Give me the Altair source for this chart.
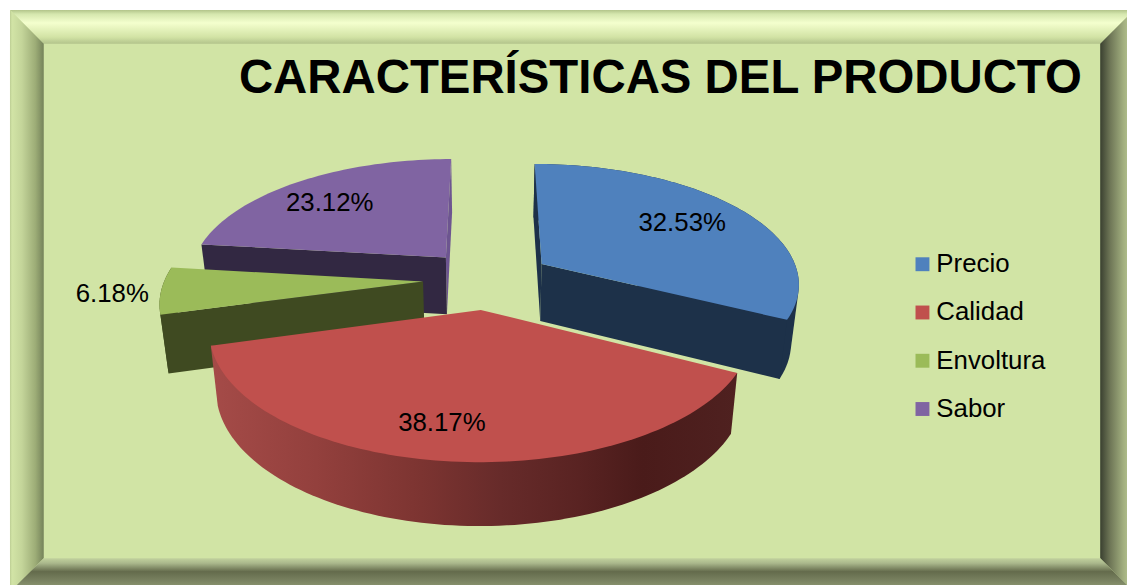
import math
import altair as alt

# ---- data
categories = ["Precio", "Calidad", "Envoltura", "Sabor"]
shares = [32.53, 38.17, 6.18, 23.12]
top_colors = ["#4f81bd", "#c0504d", "#9bbb59", "#8064a2"]
wall_colors = ["#1d3149", "#4a1a19", "#3f4a21", "#322842"]
labels = ["32.53%", "38.17%", "6.18%", "23.12%"]

# ---- geometry of the tilted pie (page pixels)
W, H = 1127, 579
OX, OY = 8, 8
CX, CY, R, RY, K, EXPL, DEPTH, SHRINK = 491, 279, 260, 120, 0.15, 0.25, 58, 0.975


def project(X, Y):
    s = 1 / (1 + K * Y)
    return CX + R * X * s - OX, CY - RY * Y * s - OY, s


def lower(p):
    x, y, s = p
    return (CX - OX + (x - (CX - OX)) * SHRINK, y + DEPTH * s ** 0.5)


def hull(points):
    pts = sorted(set((round(float(p[0]), 3), round(float(p[1]), 3)) for p in points))

    def cross(o, a, b):
        return (a[0] - o[0]) * (b[1] - o[1]) - (a[1] - o[1]) * (b[0] - o[0])

    lo, up = [], []
    for p in pts:
        while len(lo) >= 2 and cross(lo[-2], lo[-1], p) <= 0:
            lo.pop()
        lo.append(p)
    for p in reversed(pts):
        while len(up) >= 2 and cross(up[-2], up[-1], p) <= 0:
            up.pop()
        up.append(p)
    return lo[:-1] + up[:-1]


def feature(pts, name=""):
    ring = [[float(a[0]), float(a[1])] for a in pts]
    ring.append(ring[0])
    return {"type": "Feature", "properties": {"name": name},
            "geometry": {"type": "Polygon", "coordinates": [ring]}}


def poly_layer(features, **mark):
    return alt.Chart(alt.Data(values=features)).mark_geoshape(
        stroke="transparent", strokeWidth=0, **mark
    ).project(type="identity", scale=1, translate=[0, 0])


def grad(stops, vertical=False):
    return alt.Gradient(
        gradient="linear",
        stops=[alt.GradientStop(color=c, offset=o) for o, c in stops],
        x1=0, y1=0, x2=0 if vertical else 1, y2=1 if vertical else 0,
    )


def slice_points(start, end):
    mid = (start + end) / 2
    ex, ey = EXPL * math.sin(mid), EXPL * math.cos(mid)
    apex = project(ex, ey)
    steps = max(8, int((end - start) * 40))
    rim = []
    for i in range(steps + 1):
        t = start + (end - start) * i / steps
        rim.append(project(ex + math.sin(t), ey + math.cos(t)))
    return apex, rim


color_enc = alt.Color(
    "properties.name:N",
    scale=alt.Scale(domain=categories, range=top_colors),
    sort=categories,
    legend=alt.Legend(
        orient="none", legendX=908, legendY=243, title=None, symbolType="square",
        symbolSize=196, symbolStrokeWidth=0, labelFontSize=26, labelFont="Liberation Sans",
        labelColor="#000000", rowPadding=22.6, labelOffset=1, symbolOpacity=1,
        labelLimit=300,
    ),
)

# ---- frame
FL, FT, FR, FB = 10 - OX, 0, W + 7, H + 7
IL, IT, IR, IB = 44 - OX, 42 - OY, 1108 - OX, 560 - OY
frame = [
    poly_layer([feature([(FL, FT), (FR, FT), (FR, FB), (FL, FB)])], fill="#d1e4a5"),
    poly_layer([feature([(FL, FT), (FR, FT), (IR, IT), (IL, IT)])],
               fill=grad([(0, "#b3c58b"), (0.12, "#d5e7ae"), (0.38, "#f4ffce"), (0.8, "#d2e3a5"), (1, "#b2c38b")], True)),
    poly_layer([feature([(FL, FT), (IL, IT), (IL, IB), (FL, FB)])],
               fill=grad([(0, "#bccd94"), (0.06, "#d2e4a6"), (0.35, "#c4d59a"), (0.75, "#9dad77"), (1, "#75835a")])),
    poly_layer([feature([(IR, IT), (FR, FT), (FR, FB), (IR, IB)])],
               fill=grad([(0, "#3a4030"), (0.3, "#6f7757"), (0.7, "#a3b080"), (1, "#c0d09a")])),
    poly_layer([feature([(IL, IB), (IR, IB), (FR, FB), (FL, FB)])],
               fill=grad([(0, "#c2d29e"), (0.15, "#aab88c"), (0.4, "#646b4c"), (0.7, "#7c8563"), (1, "#98a47c")], True)),
]

# ---- slices
angles = []
acc = 0.0
for v in shares:
    a = acc / 100 * 2 * math.pi
    acc += v
    angles.append((a, acc / 100 * 2 * math.pi))

RED_SIDE = [(0, "#a54b48"), (0.2, "#93403d"), (0.4, "#7c3431"), (0.55, "#672b2a"),
            (0.7, "#592322"), (0.82, "#4a1b1a"), (1, "#4f2120")]

layers = list(frame)
for idx in [3, 2, 0, 1]:
    start, end = angles[idx]
    apex, rim = slice_points(start, end)
    swept = hull([p[:2] for p in rim] + [lower(p) for p in rim])
    if idx == 0:  # blue: left cut, front cut, outer rim
        layers.append(poly_layer([feature([rim[0], apex, lower(apex), lower(rim[0])])], fill=wall_colors[0]))
        layers.append(poly_layer([feature(swept)], fill=wall_colors[0]))
        layers.append(poly_layer([feature([apex, rim[-1], lower(rim[-1]), lower(apex)])], fill=wall_colors[0]))
    elif idx == 1:  # red: gradient rim
        layers.append(poly_layer([feature(swept)], fill=grad(RED_SIDE)))
    elif idx == 2:  # green: front cut and outer rim
        layers.append(poly_layer([feature(swept)], fill=wall_colors[2]))
        layers.append(poly_layer([feature([rim[0], apex, lower(apex), lower(rim[0])])], fill=wall_colors[2]))
    else:  # purple: right sliver, front cut
        layers.append(poly_layer([feature([rim[-1], apex, lower(apex), lower(rim[-1])])], fill="#6d5590"))
        layers.append(poly_layer([feature([rim[0], apex, lower(apex), lower(rim[0])])], fill=wall_colors[3]))
    top = [apex] + rim
    layers.append(
        alt.Chart(alt.Data(values=[feature(top, categories[idx])])).mark_geoshape(stroke="transparent", strokeWidth=0)
        .encode(color=color_enc).project(type="identity", scale=1, translate=[0, 0])
    )

# ---- text
label_px = [(687, 223), (445, 424), (113, 294), (332, 202)]
for (px, py), t in zip(label_px, labels):
    layers.append(
        alt.Chart(alt.Data(values=[{"t": t}])).mark_text(
            font="Liberation Sans", fontSize=26, color="#000000", align="center", baseline="middle"
        ).encode(text="t:N", x=alt.value(px - OX), y=alt.value(py - OY))
    )

layers.append(
    alt.Chart(alt.Data(values=[{"t": "CARACTERÍSTICAS DEL PRODUCTO"}])).mark_text(
        font="Liberation Sans", fontSize=47.7, fontWeight="bold", color="#000000", align="center", baseline="middle"
    ).encode(text="t:N", x=alt.value(665 - OX), y=alt.value(78 - OY))
)

chart = alt.layer(*layers).properties(
    width=W, height=H, padding=0, background="white",
    autosize=alt.AutoSizeParams(type="none"),
).configure_view(stroke=None)

chart.save("out.html", embed_options={"renderer": "svg", "actions": False})
